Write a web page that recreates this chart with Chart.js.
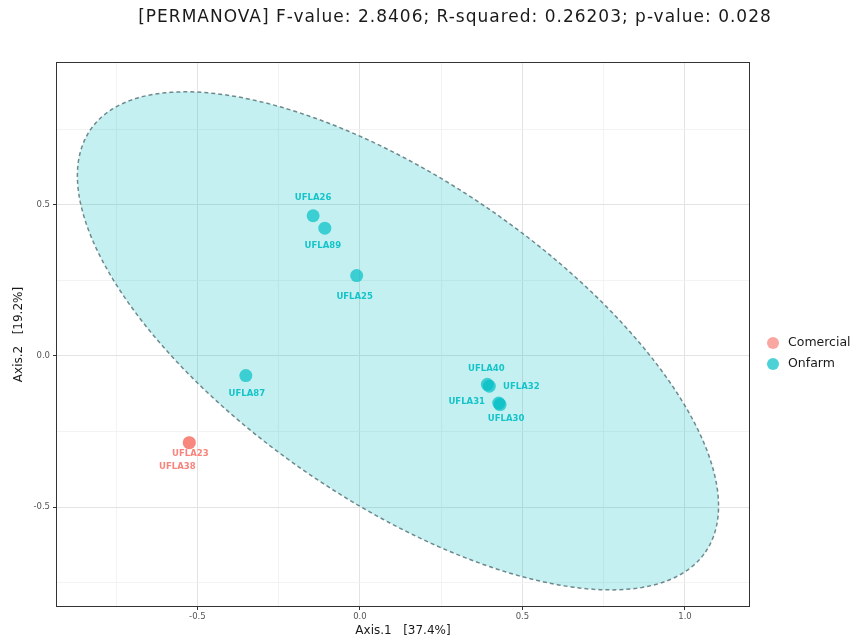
<!DOCTYPE html>
<html>
<head>
<meta charset="utf-8">
<script src="https://cdn.jsdelivr.net/npm/chart.js@4.4.1/dist/chart.umd.min.js"></script>
<style>
  html, body { margin: 0; padding: 0; background: #ffffff; }
  #wrap { width: 854px; height: 639px; }
</style>
</head>
<body>
<div id="wrap"><canvas id="pcoa" width="854" height="639"></canvas></div>
<script>
// PCoA ordination: sample scores on the first two axes
const comercialNames = ['UFLA23', 'UFLA38'];
const comercialAxis1 = [-0.525, -0.525];
const comercialAxis2 = [-0.287, -0.287];

const onfarmNames = ['UFLA26', 'UFLA89', 'UFLA25', 'UFLA87', 'UFLA40', 'UFLA32', 'UFLA31', 'UFLA30'];
const onfarmAxis1 = [-0.144, -0.108, -0.010, -0.351, 0.392, 0.398, 0.427, 0.431];
const onfarmAxis2 = [0.464, 0.423, 0.266, -0.065, -0.094, -0.100, -0.156, -0.161];

// 95% confidence ellipse of the Onfarm group (centre and two conjugate semi-axes, axis units)
const ellipseCenter = [0.117, 0.050];
const ellipseAxisA = [0.946, -0.699];
const ellipseAxisB = [0.279, 0.437];

// grid positions (major every 0.5, minor in between)
const xGridValues = [-0.75, -0.5, -0.25, 0, 0.25, 0.5, 0.75, 1.0];
const yGridValues = [-0.75, -0.5, -0.25, 0, 0.25, 0.5, 0.75];

const titleText = '[PERMANOVA] F-value: 2.8406; R-squared: 0.26203; p-value: 0.028';
const xTitle = 'Axis.1   [37.4%]';
const yTitle = 'Axis.2   [19.2%]';

// pixel offsets of the sample labels from their points
const comercialLabelOffsets = [[1, 11], [-12, 24]];
const onfarmLabelOffsets = [[0, -18], [-2, 18], [-2, 21], [1, 18], [-1, -16], [32, 1], [-32, -1], [6, 14]];

const COL_COM = '248,118,109';
const COL_ONF = '0,191,196';

function toPoints(xs, ys) {
  return xs.map((x, i) => ({ x: x, y: ys[i] }));
}
function isMajor(v) {
  return Math.abs(v / 0.5 - Math.round(v / 0.5)) < 1e-6;
}

const ellipsePlugin = {
  id: 'groupEllipse',
  beforeDatasetsDraw(chart) {
    const { ctx, chartArea, scales } = chart;
    ctx.save();
    ctx.beginPath();
    ctx.rect(chartArea.left, chartArea.top, chartArea.right - chartArea.left, chartArea.bottom - chartArea.top);
    ctx.clip();
    ctx.beginPath();
    const n = 240;
    for (let i = 0; i <= n; i++) {
      const t = (i / n) * Math.PI * 2;
      const vx = ellipseCenter[0] + Math.cos(t) * ellipseAxisA[0] + Math.sin(t) * ellipseAxisB[0];
      const vy = ellipseCenter[1] + Math.cos(t) * ellipseAxisA[1] + Math.sin(t) * ellipseAxisB[1];
      const px = scales.x.getPixelForValue(vx);
      const py = scales.y.getPixelForValue(vy);
      if (i === 0) ctx.moveTo(px, py); else ctx.lineTo(px, py);
    }
    ctx.closePath();
    ctx.fillStyle = 'rgba(' + COL_ONF + ',0.23)';
    ctx.fill();
    ctx.setLineDash([4, 3]);
    ctx.lineWidth = 1.5;
    ctx.strokeStyle = 'rgba(80,110,115,0.8)';
    ctx.stroke();
    ctx.restore();
  }
};

const decorPlugin = {
  id: 'decor',
  afterDatasetsDraw(chart) {
    const { ctx } = chart;
    ctx.save();
    ctx.font = 'bold 8.5px "DejaVu Sans"';
    ctx.textAlign = 'center';
    ctx.textBaseline = 'middle';
    const groups = [
      { names: comercialNames, offs: comercialLabelOffsets, col: 'rgba(' + COL_COM + ',0.9)' },
      { names: onfarmNames, offs: onfarmLabelOffsets, col: 'rgba(' + COL_ONF + ',0.9)' }
    ];
    groups.forEach((g, di) => {
      const meta = chart.getDatasetMeta(di);
      ctx.fillStyle = g.col;
      meta.data.forEach((el, i) => {
        ctx.fillText(g.names[i], el.x + g.offs[i][0], el.y + g.offs[i][1]);
      });
    });
    ctx.restore();
  },
  afterDraw(chart) {
    const { ctx, chartArea } = chart;
    ctx.save();
    // panel border
    ctx.strokeStyle = '#333333';
    ctx.lineWidth = 1;
    ctx.strokeRect(chartArea.left + 0.5, chartArea.top + 0.5,
      chartArea.right - chartArea.left - 1, chartArea.bottom - chartArea.top - 1);
    // title
    ctx.fillStyle = '#1a1a1a';
    ctx.font = '17px "DejaVu Sans"';
    ctx.letterSpacing = '1px';
    ctx.textAlign = 'center';
    ctx.textBaseline = 'middle';
    ctx.fillText(titleText, 455, 18);
    ctx.letterSpacing = '0px';
    // legend
    const ds = chart.data.datasets;
    ctx.font = '12.5px "DejaVu Sans"';
    ctx.textAlign = 'left';
    ds.forEach((d, i) => {
      const cy = 343 + i * 21;
      ctx.beginPath();
      ctx.arc(773, cy, 6, 0, Math.PI * 2);
      ctx.fillStyle = d.backgroundColor;
      ctx.fill();
      ctx.fillStyle = '#1a1a1a';
      ctx.fillText(d.label, 788, cy);
    });
    ctx.restore();
  }
};

function gridColor(ctx) {
  const v = ctx.tick ? ctx.tick.value : 0;
  return isMajor(v) ? '#e3e3e3' : '#f0f0f0';
}
function gridWidth(ctx) {
  const v = ctx.tick ? ctx.tick.value : 0;
  return isMajor(v) ? 1 : 0.8;
}
function tickColor(ctx) {
  const v = ctx.tick ? ctx.tick.value : 0;
  return isMajor(v) ? '#333333' : 'rgba(0,0,0,0)';
}
function tickLabel(v) {
  return isMajor(v) ? Number(v).toFixed(1) : '';
}

new Chart(document.getElementById('pcoa'), {
  type: 'scatter',
  data: {
    datasets: [
      {
        label: 'Comercial',
        data: toPoints(comercialAxis1, comercialAxis2),
        backgroundColor: 'rgba(' + COL_COM + ',0.65)',
        borderWidth: 0,
        pointRadius: 6.5,
        pointHoverRadius: 6.5
      },
      {
        label: 'Onfarm',
        data: toPoints(onfarmAxis1, onfarmAxis2),
        backgroundColor: 'rgba(' + COL_ONF + ',0.7)',
        borderWidth: 0,
        pointRadius: 6.5,
        pointHoverRadius: 6.5
      }
    ]
  },
  options: {
    responsive: false,
    animation: false,
    events: [],
    layout: { padding: { left: 0, right: 104, top: 62, bottom: 0 } },
    plugins: {
      legend: { display: false },
      tooltip: { enabled: false },
      title: { display: false }
    },
    scales: {
      x: {
        type: 'linear',
        min: -0.935,
        max: 1.2,
        afterBuildTicks(scale) { scale.ticks = xGridValues.map(v => ({ value: v })); },
        afterFit(scale) { scale.height = 32; },
        border: { display: false },
        grid: { color: gridColor, lineWidth: gridWidth, tickColor: tickColor, tickLength: 3, drawTicks: true },
        ticks: {
          callback: tickLabel,
          autoSkip: false,
          maxRotation: 0,
          padding: 2,
          color: '#555555',
          font: { family: '"DejaVu Sans"', size: 8.5 }
        },
        title: {
          display: true,
          text: xTitle,
          color: '#1a1a1a',
          padding: { top: 0, bottom: 1 },
          font: { family: '"DejaVu Sans"', size: 12 }
        }
      },
      y: {
        type: 'linear',
        min: -0.831,
        max: 0.973,
        afterBuildTicks(scale) { scale.ticks = yGridValues.map(v => ({ value: v })); },
        afterFit(scale) { scale.width = 56; },
        border: { display: false },
        grid: { color: gridColor, lineWidth: gridWidth, tickColor: tickColor, tickLength: 3, drawTicks: true },
        ticks: {
          callback: tickLabel,
          autoSkip: false,
          padding: 3,
          color: '#555555',
          font: { family: '"DejaVu Sans"', size: 8.5 }
        },
        title: {
          display: true,
          text: yTitle,
          color: '#1a1a1a',
          padding: { top: 12, bottom: 0 },
          font: { family: '"DejaVu Sans"', size: 12 }
        }
      }
    }
  },
  plugins: [ellipsePlugin, decorPlugin]
});
</script>
</body>
</html>
